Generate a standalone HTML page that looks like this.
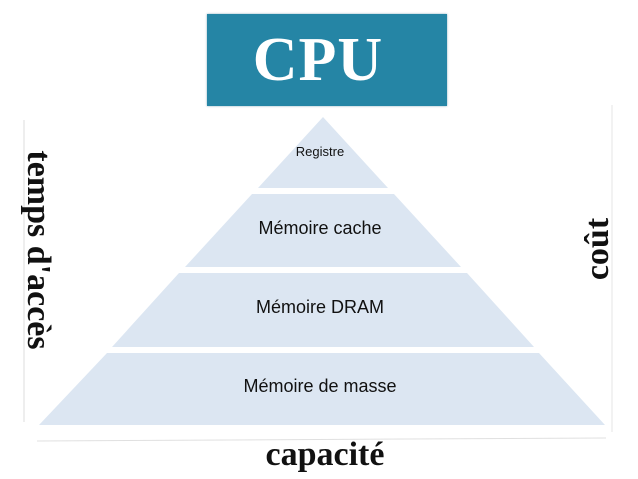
<!DOCTYPE html>
<html><head><style>
body{margin:0;width:638px;height:479px;background:#fff;overflow:hidden;position:relative;font-family:"Liberation Sans",sans-serif}
.cpu{position:absolute;left:207px;top:14px;width:240px;height:92px;background:#2585a5;box-shadow:0 0 2px #8ab;color:#fff;font:bold 62px "Liberation Serif",serif;text-align:center;line-height:92px;letter-spacing:1px}
.cpu span{position:relative;left:-9px;top:0px}
.lbl{position:absolute;font-family:"Liberation Serif",serif;font-weight:bold;font-size:34px;color:#111;white-space:nowrap}
.t{position:absolute;color:#111;text-align:center;width:300px;left:170px}
</style></head><body>
<div class="cpu"><span>CPU</span></div>
<svg width="638" height="479" style="position:absolute;left:0;top:0">
<line x1="24" y1="120" x2="24" y2="422" stroke="#ddd" stroke-width="1"/>
<line x1="612" y1="105" x2="612" y2="432" stroke="#e4e4e4" stroke-width="1"/>
<line x1="37" y1="441" x2="606" y2="438" stroke="#e0e0e0" stroke-width="1"/>
<g fill="#dce6f2">
<polygon points="323,117 388,188 258,188"/>
<polygon points="252,194 394,194 461,267 185,267"/>
<polygon points="179,273 467,273 534,347 112,347"/>
<polygon points="107,353 539,353 605,425 39,425"/>
</g>
</svg>
<div class="t" style="top:144px;font-size:13px">Registre</div>
<div class="t" style="top:218px;font-size:18px">Mémoire cache</div>
<div class="t" style="top:297px;font-size:18px">Mémoire DRAM</div>
<div class="t" style="top:376px;font-size:18px">Mémoire de masse</div>
<div class="lbl" style="left:38px;top:250px;transform:translate(-50%,-50%) rotate(90deg)">temps d'accès</div>
<div class="lbl" style="left:598px;top:249px;transform:translate(-50%,-50%) rotate(-90deg)">coût</div>
<div class="lbl" style="left:325px;top:455px;transform:translate(-50%,-50%)">capacité</div>
</body></html>
